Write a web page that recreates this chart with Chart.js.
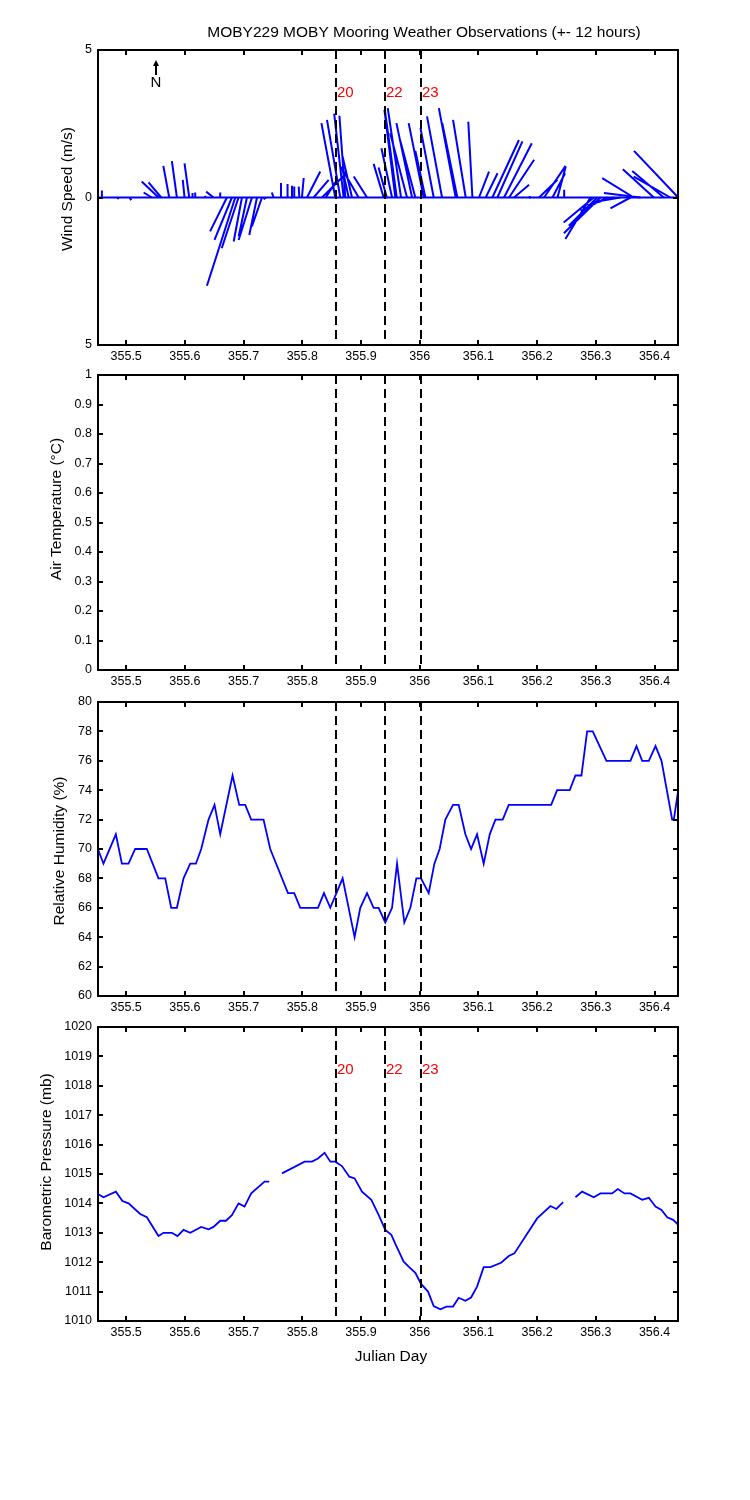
<!DOCTYPE html>
<html>
<head>
<meta charset="utf-8">
<script src="https://cdn.jsdelivr.net/npm/chart.js@4.4.1/dist/chart.umd.min.js"></script>
<style>
html,body{margin:0;padding:0;background:#fff;}
#wrap{position:relative;width:750px;height:1500px;background:#fff;}
canvas{position:absolute;left:0;top:0;}
</style>
</head>
<body>
<div id="wrap">
<canvas id="c1" width="750" height="1500"></canvas>
<canvas id="c2" width="750" height="1500"></canvas>
<canvas id="c3" width="750" height="1500"></canvas>
<canvas id="c4" width="750" height="1500"></canvas>
</div>
<script>
// ---------- DATA ----------
const X_MIN = 355.452, X_MAX = 356.440;
const xTicks = [355.5, 355.6, 355.7, 355.8, 355.9, 356.0, 356.1, 356.2, 356.3, 356.4];
const eventDays = [355.857, 355.941, 356.002];
const eventLabels = ['20', '22', '23'];

// wind sticks: base day, east (u) and north (v) components in m/s
const windDay = [355.4586,355.4859,355.5057,355.5438,355.5551,355.5597,355.5733,355.5864,355.5994,355.6074,
  355.6130,355.6176,355.6347,355.6488,355.6602,355.6716,355.6801,355.6858,355.6914,355.6972,
  355.7057,355.7142,355.7228,355.7313,355.7381,355.7511,355.7637,355.7749,355.7835,355.7863,
  355.7949,355.7994,355.8080,355.8193,355.8336,355.8400,355.8562,355.8647,355.8704,355.8733,
  355.8790,355.8847,355.8960,355.9103,355.9386,355.9440,355.9529,355.9585,355.9609,355.9682,
  355.9784,355.9870,355.9926,356.0068,356.0097,356.0239,356.0381,356.0613,356.0641,356.0784,
  356.0898,356.1010,356.1125,356.1238,356.1323,356.1437,356.1522,356.1607,356.1863,356.2034,
  356.2119,356.2261,356.2347,356.2461,356.2909,356.2965,356.3023,356.3079,356.3193,356.3307,
  356.3420,356.3591,356.3647,356.3761,356.3988,356.4158,356.4270,356.4404];
const windU = [0,0,0.06,-0.28,-0.57,-0.43,-0.20,-0.17,-0.06,-0.16,
  0,0,0,-0.25,0,-0.57,-0.59,-0.96,-0.57,-0.28,
  -0.28,-0.45,-0.26,-0.34,-0.08,-0.06,0,0,-0.02,0,
  -0.02,0.06,0.45,0.51,0.73,0.35,-0.47,-0.45,-0.32,-0.20,
  -0.23,-0.32,-0.51,-0.45,-0.34,-0.28,-0.36,-0.37,-0.40,-0.45,
  -0.57,-0.53,-0.51,-0.51,-0.34,-0.45,-0.51,-0.57,-0.51,-0.43,
  -0.14,0.34,0.40,0.90,0.85,0.94,0.85,0.51,0.02,0.62,
  0.73,0.43,0.28,0,-0.85,-1.02,-0.96,-1.24,-0.90,-0.90,
  -0.90,-0.68,-1.07,-1.24,-1.05,-1.07,-1.24,-1.50];
const windV = [0.24,-0.06,-0.09,0.17,0.54,0.51,1.07,1.23,0.60,1.16,
  0.15,0.17,0.06,0.20,0.17,-1.15,-1.44,-2.99,-1.72,-1.49,
  -1.32,-1.44,-1.27,-0.98,-0.06,0.17,0.49,0.46,0.40,0.37,
  0.37,0.66,0.88,0.60,0.73,0.55,2.52,2.63,2.84,2.77,
  1.05,1.39,0.88,0.71,1.14,1.02,1.67,2.97,2.94,3.03,
  2.18,2.52,1.92,2.52,1.58,2.35,2.75,3.03,2.52,2.63,
  2.57,0.88,0.82,1.95,1.90,1.84,1.28,0.43,0.05,0.60,
  1.07,0.82,1.05,0.26,-1.41,-0.85,-0.96,-1.21,-0.45,-0.26,
  -0.15,-0.37,0.66,0.15,0.96,0.90,0.71,1.58];
const windTicks = [-5, 0, 5];

const airTempDay = [];
const airTempVal = [];
const tempTicks = [0,0.1,0.2,0.3,0.4,0.5,0.6,0.7,0.8,0.9,1];

const rhDay = [355.4518,355.4613,355.4824,355.4927,355.5040,355.5153,355.5352,355.5550,355.5665,355.5767,
  355.5864,355.5977,355.6091,355.6188,355.6278,355.6403,355.6505,355.6602,355.6812,355.6926,
  355.7028,355.7130,355.7340,355.7454,355.7756,355.7863,355.7966,355.8267,355.8369,355.8477,
  355.8687,355.8891,355.8988,355.9103,355.9215,355.9300,355.9414,355.9529,355.9614,355.9738,
  355.9841,355.9943,356.0023,356.0153,356.0250,356.0340,356.0437,356.0568,356.0664,356.0778,
  356.0875,356.0977,356.1090,356.1193,356.1290,356.1414,356.1517,356.2239,356.2341,356.2556,
  356.2653,356.2755,356.2852,356.2948,356.3181,356.3590,356.3693,356.3790,356.3903,356.4017,
  356.4119,356.4301,356.4329,356.4404];
const rhVal = [70,69,71,69,69,70,70,68,68,66,
  66,68,69,69,70,72,73,71,75,73,
  73,72,72,70,67,67,66,66,67,66,
  68,64,66,67,66,66,65,66,69,65,
  66,68,68,67,69,70,72,73,73,71,
  70,71,69,71,72,72,73,73,74,74,
  75,75,78,78,76,76,77,76,76,77,
  76,72,72,74];
const rhTicks = [60,62,64,66,68,70,72,74,76,78,80];

const bpDay = [355.4518,355.4613,355.4824,355.4937,355.5040,355.5239,355.5352,355.5550,355.5636,355.5779,
  355.5874,355.5977,355.6091,355.6278,355.6403,355.6488,355.6602,355.6700,355.6801,355.6914,
  355.7016,355.7130,355.7357,355.7437,355.7550,355.7654,355.8040,355.8165,355.8267,355.8380,
  355.8477,355.8562,355.8676,355.8801,355.8891,355.9017,355.9176,355.9300,355.9414,355.9517,
  355.9585,355.9727,355.9812,355.9926,356.0023,356.0142,356.0238,356.0352,356.0454,356.0568,
  356.0664,356.0778,356.0875,356.0977,356.1090,356.1204,356.1386,356.1517,356.1613,356.2000,
  356.2227,356.2329,356.2443,356.2550,356.2653,356.2767,356.2965,356.3079,356.3278,356.3374,
  356.3488,356.3590,356.3790,356.3903,356.4017,356.4119,356.4216,356.4318,356.4404];
const bpVal = [1014.32,1014.21,1014.40,1014.08,1014.00,1013.64,1013.53,1012.89,1013.00,1013.00,
  1012.89,1013.10,1013.00,1013.20,1013.12,1013.20,1013.41,1013.41,1013.60,1014.00,
  1013.89,1014.34,1014.74,1014.74,null,1015.02,1015.42,1015.42,1015.53,1015.72,
  1015.42,1015.42,1015.27,1014.91,1014.85,1014.40,1014.12,1013.61,1013.10,1012.93,
  1012.62,1012.02,1011.85,1011.64,1011.26,1011.00,1010.51,1010.40,1010.49,1010.49,
  1010.79,1010.69,1010.80,1011.17,1011.83,1011.83,1011.98,1012.21,1012.30,1013.49,
  1013.91,1013.81,1014.04,null,1014.21,1014.40,1014.21,1014.34,1014.34,1014.49,
  1014.34,1014.34,1014.12,1014.19,1013.89,1013.78,1013.53,1013.44,1013.27];
const bpTicks = [1010,1011,1012,1013,1014,1015,1016,1017,1018,1019,1020];

// ---------- STYLE / LAYOUT ----------
const FONT = "'Liberation Sans', Arial, Helvetica, sans-serif";
const BLUE = 'rgb(0,0,255)';
const PLOT_LEFT = 98, PLOT_RIGHT = 678, XH = 30;
const TICK_FONT = {family: FONT, size: 12.5};
const LABEL_FONT = '15.5px ' + FONT;

function fmtX(v){ return String(Number(v.toFixed(1))); }

const matlabPlugin = {
  id: 'matlab',
  afterDatasetsDraw(chart, args, o) {
    const ctx = chart.ctx;
    const {left, right, top, bottom} = chart.chartArea;
    const x = chart.scales.x, y = chart.scales.y;
    ctx.save();
    // event lines
    ctx.strokeStyle = '#000';
    ctx.lineWidth = 2;
    ctx.setLineDash([9, 5]);
    eventDays.forEach((d) => {
      const px = Math.round(x.getPixelForValue(d));
      ctx.beginPath(); ctx.moveTo(px, top); ctx.lineTo(px, bottom); ctx.stroke();
    });
    ctx.setLineDash([]);
    if (o.eventLabels) {
      ctx.fillStyle = '#ff0000';
      ctx.font = '15px ' + FONT;
      ctx.textAlign = 'left'; ctx.textBaseline = 'middle';
      eventDays.forEach((d, i) => {
        const px = Math.round(x.getPixelForValue(d));
        ctx.fillText(eventLabels[i], px + 1, top + 43);
      });
    }
    // frame
    ctx.strokeStyle = '#000'; ctx.lineWidth = 2;
    ctx.strokeRect(left, top, right - left, bottom - top);
    // inward ticks
    const TL = 5;
    ctx.beginPath();
    x.ticks.forEach(t => {
      const px = Math.round(x.getPixelForValue(t.value));
      ctx.moveTo(px, bottom); ctx.lineTo(px, bottom - TL);
      ctx.moveTo(px, top); ctx.lineTo(px, top + TL);
    });
    y.ticks.forEach(t => {
      const py = Math.round(y.getPixelForValue(t.value));
      ctx.moveTo(left, py); ctx.lineTo(left + TL, py);
      ctx.moveTo(right, py); ctx.lineTo(right - TL, py);
    });
    ctx.stroke();
    // y axis label
    ctx.fillStyle = '#000';
    ctx.font = LABEL_FONT;
    ctx.textAlign = 'center'; ctx.textBaseline = 'middle';
    ctx.save();
    ctx.translate(o.yLabelX, o.yLabelY);
    ctx.rotate(-Math.PI / 2);
    ctx.fillText(o.yLabel, 0, 0);
    ctx.restore();
    if (o.extra) o.extra(ctx, chart);
    ctx.restore();
  }
};

function makePanel(id, cfg) {
  return new Chart(document.getElementById(id), {
    type: 'line',
    data: { datasets: cfg.datasets },
    options: {
      responsive: false, animation: false, devicePixelRatio: 1,
      layout: { padding: { left: 0, right: 750 - PLOT_RIGHT, top: cfg.top, bottom: 1500 - cfg.bottom - XH } },
      elements: { point: { radius: 0 }, line: { tension: 0 } },
      plugins: {
        legend: { display: false }, tooltip: { enabled: false },
        matlab: { yLabel: cfg.yLabel, yLabelX: cfg.yLabelX, yLabelY: cfg.yLabelY, eventLabels: cfg.eventLabels, extra: cfg.extra }
      },
      scales: {
        x: {
          type: 'linear', min: X_MIN, max: X_MAX,
          grid: { display: false, drawTicks: false }, border: { display: false },
          afterFit: s => { s.height = XH; },
          afterBuildTicks: s => { s.ticks = xTicks.map(v => ({ value: v })); },
          ticks: { color: '#000', font: TICK_FONT, padding: 4, maxRotation: 0, autoSkip: false, callback: v => fmtX(v) }
        },
        y: {
          type: 'linear', min: cfg.yMin, max: cfg.yMax,
          grid: { display: false, drawTicks: false }, border: { display: false },
          afterFit: s => { s.width = PLOT_LEFT; },
          afterBuildTicks: s => { s.ticks = cfg.yTicks.map(v => ({ value: v })); },
          ticks: { color: '#000', font: TICK_FONT, padding: 6, autoSkip: false, callback: cfg.yFmt }
        }
      }
    },
    plugins: [matlabPlugin]
  });
}

// wind sticks built from the arrays
const STICK_SCALE = ((X_MAX - X_MIN) / (PLOT_RIGHT - PLOT_LEFT)) * (295 / 10); // days per m/s (equal aspect)
const stickPts = [];
windDay.forEach((d, i) => {
  stickPts.push({ x: d, y: 0 });
  stickPts.push({ x: d + windU[i] * STICK_SCALE, y: windV[i] });
  stickPts.push({ x: d, y: null });
});

makePanel('c1', {
  top: 50, bottom: 345, yMin: -5, yMax: 5, yTicks: windTicks,
  yFmt: v => String(Math.abs(v)),
  yLabel: 'Wind Speed (m/s)', yLabelX: 68, yLabelY: 189, eventLabels: true,
  datasets: [
    { data: [{ x: X_MIN, y: 0 }, { x: X_MAX, y: 0 }], borderColor: BLUE, borderWidth: 2, pointRadius: 0 },
    { data: stickPts, borderColor: BLUE, borderWidth: 2, pointRadius: 0, spanGaps: false }
  ],
  extra: (ctx) => {
    ctx.fillStyle = '#000';
    ctx.font = LABEL_FONT;
    ctx.textAlign = 'center'; ctx.textBaseline = 'middle';
    ctx.fillText('MOBY229 MOBY Mooring Weather Observations (+- 12 hours)', 424, 33);
    // north arrow
    ctx.strokeStyle = '#000'; ctx.lineWidth = 2;
    ctx.beginPath(); ctx.moveTo(156, 75); ctx.lineTo(156, 64); ctx.stroke();
    ctx.beginPath(); ctx.moveTo(156, 60); ctx.lineTo(153, 66); ctx.lineTo(159, 66); ctx.closePath(); ctx.fill();
    ctx.font = '15px ' + FONT;
    ctx.fillText('N', 156, 83);
  }
});

makePanel('c2', {
  top: 375, bottom: 670, yMin: 0, yMax: 1, yTicks: tempTicks,
  yFmt: v => String(Number(v.toFixed(1))),
  yLabel: 'Air Temperature (\u00B0C)', yLabelX: 57, yLabelY: 509, eventLabels: false,
  datasets: [
    { data: airTempDay.map((d, i) => ({ x: d, y: airTempVal[i] })), borderColor: BLUE, borderWidth: 1.5 }
  ]
});

makePanel('c3', {
  top: 702, bottom: 996, yMin: 60, yMax: 80, yTicks: rhTicks,
  yFmt: v => String(v),
  yLabel: 'Relative Humidity (%)', yLabelX: 60, yLabelY: 851, eventLabels: false,
  datasets: [
    { data: rhDay.map((d, i) => ({ x: d, y: rhVal[i] })), borderColor: BLUE, borderWidth: 1.8 }
  ]
});

makePanel('c4', {
  top: 1027, bottom: 1321, yMin: 1010, yMax: 1020, yTicks: bpTicks,
  yFmt: v => String(v),
  yLabel: 'Barometric Pressure (mb)', yLabelX: 47, yLabelY: 1162, eventLabels: true,
  datasets: [
    { data: bpDay.map((d, i) => ({ x: d, y: bpVal[i] })), borderColor: BLUE, borderWidth: 1.8, spanGaps: false }
  ],
  extra: (ctx) => {
    ctx.fillStyle = '#000';
    ctx.font = LABEL_FONT;
    ctx.textAlign = 'center'; ctx.textBaseline = 'middle';
    ctx.fillText('Julian Day', 391, 1357);
  }
});
</script>
</body>
</html>
